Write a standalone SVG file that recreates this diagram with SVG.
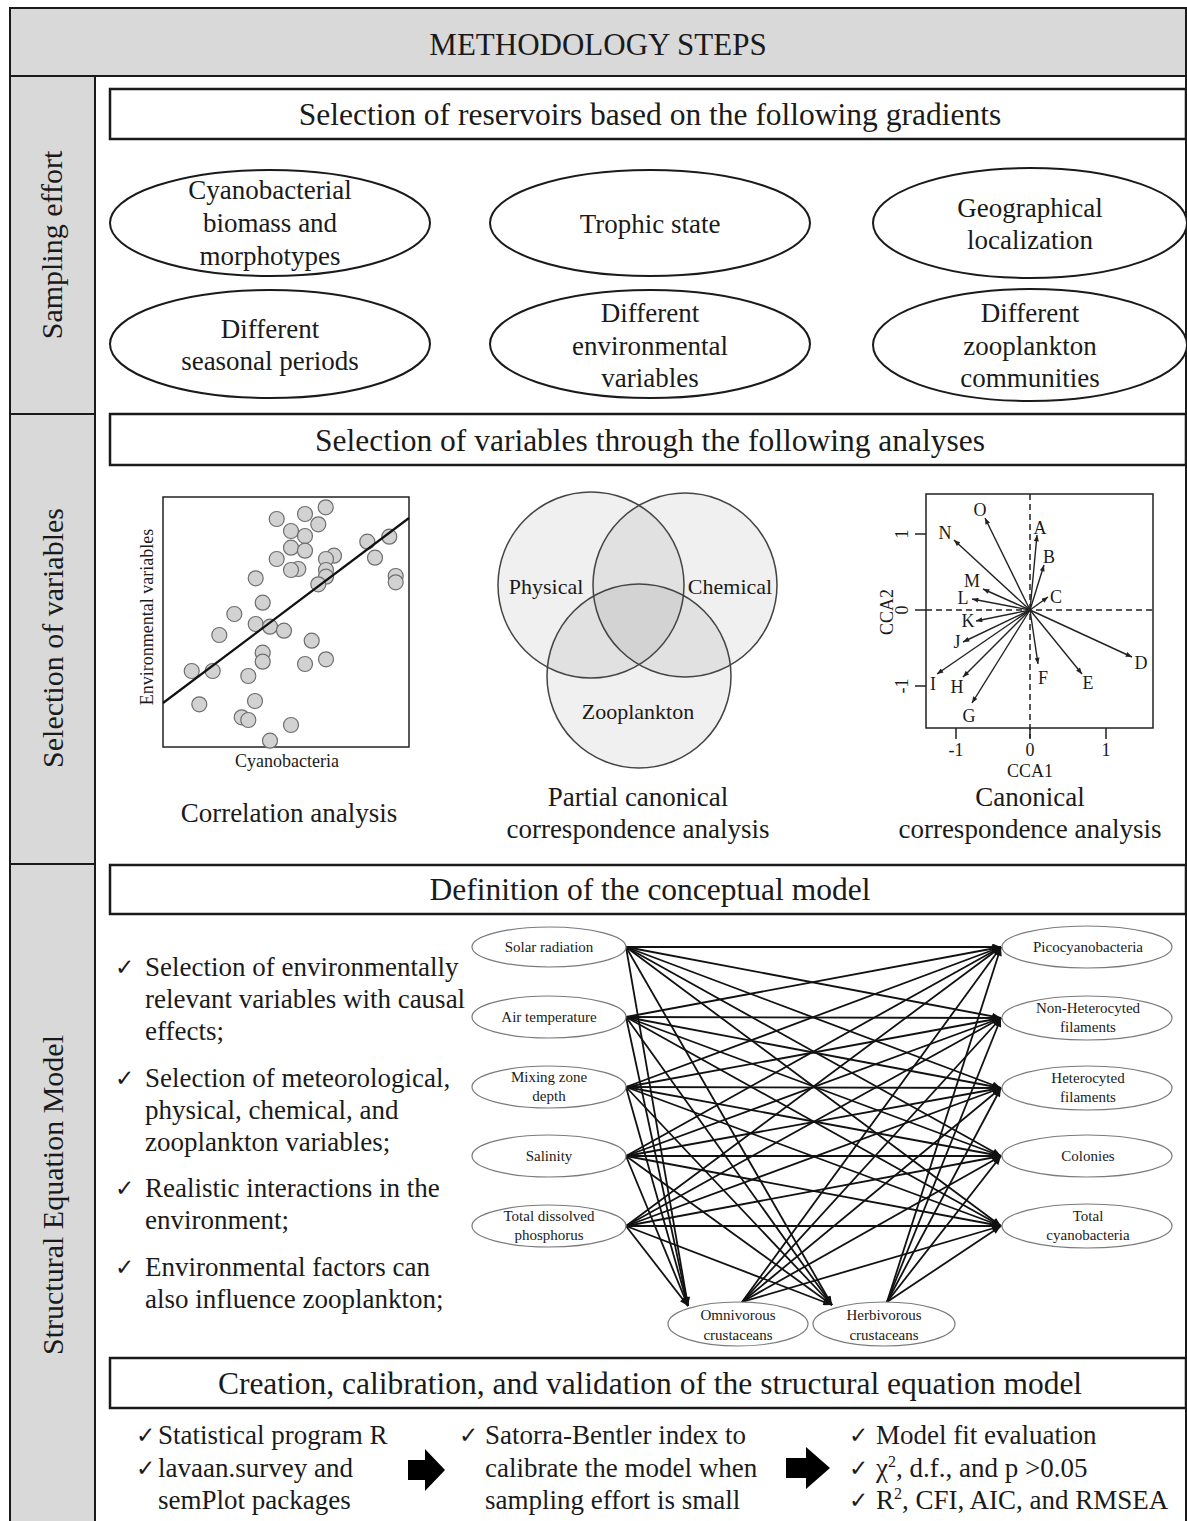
<svg xmlns="http://www.w3.org/2000/svg" width="1187" height="1521" viewBox="0 0 1187 1521">
<style>
text { font-family: "Liberation Serif", "Times New Roman", serif; fill: #1a1a1a; }
.hdr { font-size: 31px; }
.ttl { font-size: 31.5px; }
.side { font-size: 30px; }
.ell { font-size: 27px; text-anchor: middle; }
.cap { font-size: 27px; text-anchor: middle; }
.bul { font-size: 27px; }
.sem { font-size: 15px; text-anchor: middle; }
.frame { fill: none; stroke: #1a1a1a; stroke-width: 2; }
.box { fill: #fff; stroke: #1a1a1a; stroke-width: 2.5; }
.gray { fill: #d9d9d9; }
.oval { fill: #fff; stroke: #1a1a1a; stroke-width: 2; }
.semoval { fill: #fff; stroke: #7a7a7a; stroke-width: 1.2; }
.edge { stroke: #111; stroke-width: 1.8; fill: none; marker-end: url(#ah); }
.cca { stroke: #222; stroke-width: 1.4; fill: none; marker-end: url(#ah2); }
.ck { font-family: "DejaVu Sans", sans-serif; font-size: 23px; }
.pt { fill: #d2d2d2; stroke: #6e6e6e; stroke-width: 1.2; }
.lbl { font-size: 18px; text-anchor: middle; }
.venn { fill: #000; fill-opacity: 0.06; stroke: none; }
.vennl { fill: none; stroke: #444; stroke-width: 1.5; }
.dash { stroke: #222; stroke-width: 1.5; stroke-dasharray: 6 4; fill: none; }
</style>
<defs>
<marker id="ah" viewBox="0 0 10 8" refX="10" refY="4" markerWidth="10" markerHeight="7" markerUnits="userSpaceOnUse" orient="auto"><path d="M0,0 L10,4 L0,8 z" fill="#111"/></marker>
<marker id="ah2" viewBox="0 0 10 8" refX="10" refY="4" markerWidth="7" markerHeight="5" markerUnits="userSpaceOnUse" orient="auto"><path d="M0,0 L10,4 L0,8 z" fill="#222"/></marker>
</defs>
<rect width="1187" height="1521" fill="#fff"/>

<!-- frame -->
<g id="frame">
<rect class="gray" x="10" y="8" width="1176" height="68"/>
<rect class="gray" x="10" y="76" width="85" height="1450"/>
<rect class="frame" x="10" y="8" width="1176" height="1520"/>
<line class="frame" x1="10" y1="76" x2="1186" y2="76"/>
<line class="frame" x1="95" y1="76" x2="95" y2="1521"/>
<line class="frame" x1="10" y1="414" x2="95" y2="414"/>
<line class="frame" x1="10" y1="864" x2="95" y2="864"/>
<text class="hdr" x="598" y="55" text-anchor="middle">METHODOLOGY STEPS</text>
<text class="side" transform="translate(62,245) rotate(-90)" text-anchor="middle">Sampling effort</text>
<text class="side" transform="translate(63,638) rotate(-90)" text-anchor="middle">Selection of variables</text>
<text class="side" transform="translate(63,1195) rotate(-90)" text-anchor="middle">Structural Equation Model</text>
</g>

<!-- Section 1 -->
<g id="title-reservoirs">
<rect class="box" x="110" y="89" width="1076" height="50"/>
<text class="ttl" x="650" y="125" text-anchor="middle">Selection of reservoirs based on the following gradients</text>
</g>
<g id="g-cyano">
<ellipse class="oval" cx="270" cy="223" rx="160" ry="53"/>
<text class="ell"><tspan x="270" y="199">Cyanobacterial</tspan><tspan x="270" y="232">biomass and</tspan><tspan x="270" y="265">morphotypes</tspan></text>
</g>
<g id="g-trophic">
<ellipse class="oval" cx="650" cy="223" rx="160" ry="53"/>
<text class="ell" x="650" y="233">Trophic state</text>
</g>
<g id="g-geo">
<ellipse class="oval" cx="1030" cy="223" rx="157" ry="55"/>
<text class="ell"><tspan x="1030" y="217">Geographical</tspan><tspan x="1030" y="249">localization</tspan></text>
</g>
<g id="g-season">
<ellipse class="oval" cx="270" cy="344" rx="160" ry="54"/>
<text class="ell"><tspan x="270" y="338">Different</tspan><tspan x="270" y="370">seasonal periods</tspan></text>
</g>
<g id="g-env">
<ellipse class="oval" cx="650" cy="344" rx="160" ry="54"/>
<text class="ell"><tspan x="650" y="322">Different</tspan><tspan x="650" y="355">environmental</tspan><tspan x="650" y="387">variables</tspan></text>
</g>
<g id="g-zoo">
<ellipse class="oval" cx="1030" cy="345" rx="157" ry="56"/>
<text class="ell"><tspan x="1030" y="322">Different</tspan><tspan x="1030" y="355">zooplankton</tspan><tspan x="1030" y="387">communities</tspan></text>
</g>

<!-- Section 2 -->
<g id="title-variables">
<rect class="box" x="110" y="414" width="1076" height="51"/>
<text class="ttl" x="650" y="451" text-anchor="middle">Selection of variables through the following analyses</text>
</g>

<g id="scatter">
<rect x="163" y="497" width="246" height="250" fill="#fff" stroke="#222" stroke-width="1.5"/>
<g class="pt">
<circle cx="325.7" cy="507.3" r="7.5"/><circle cx="276.7" cy="519" r="7.5"/><circle cx="305" cy="514" r="7.5"/>
<circle cx="318.3" cy="524.3" r="7.5"/><circle cx="291" cy="531" r="7.5"/><circle cx="305" cy="536" r="7.5"/>
<circle cx="291" cy="547.7" r="7.5"/><circle cx="305" cy="550.7" r="7.5"/><circle cx="276.7" cy="559" r="7.5"/>
<circle cx="298.3" cy="569" r="7.5"/><circle cx="291" cy="570" r="7.5"/><circle cx="334" cy="555.7" r="7.5"/>
<circle cx="326" cy="559" r="7.5"/><circle cx="326" cy="570" r="7.5"/><circle cx="326" cy="576.7" r="7.5"/>
<circle cx="318.3" cy="584.3" r="7.5"/><circle cx="367.3" cy="541.7" r="7.5"/><circle cx="389.3" cy="536.7" r="7.5"/>
<circle cx="375" cy="557.7" r="7.5"/><circle cx="395.7" cy="576" r="7.5"/><circle cx="395.7" cy="582.3" r="7.5"/>
<circle cx="255.7" cy="578.3" r="7.5"/><circle cx="262.7" cy="602.7" r="7.5"/><circle cx="234.3" cy="614" r="7.5"/>
<circle cx="255.7" cy="624" r="7.5"/><circle cx="270" cy="626.7" r="7.5"/><circle cx="284" cy="630.7" r="7.5"/>
<circle cx="219.3" cy="635" r="7.5"/><circle cx="311.7" cy="640.7" r="7.5"/><circle cx="262.7" cy="652.7" r="7.5"/>
<circle cx="262.7" cy="661.7" r="7.5"/><circle cx="305" cy="664" r="7.5"/><circle cx="326" cy="659.3" r="7.5"/>
<circle cx="191.7" cy="671" r="7.5"/><circle cx="212.7" cy="671" r="7.5"/><circle cx="248.3" cy="676" r="7.5"/>
<circle cx="199.3" cy="704.3" r="7.5"/><circle cx="255" cy="701" r="7.5"/><circle cx="241.7" cy="717.3" r="7.5"/>
<circle cx="248.3" cy="720" r="7.5"/><circle cx="291" cy="725" r="7.5"/><circle cx="270" cy="740.7" r="7.5"/>
</g>
<line x1="163" y1="703" x2="409" y2="518" stroke="#111" stroke-width="2.2"/>
<text class="lbl" transform="translate(153,617) rotate(-90)">Environmental variables</text>
<text class="lbl" x="287" y="767">Cyanobacteria</text>
<text class="cap" x="289" y="822">Correlation analysis</text>
</g>

<g id="venn">
<circle class="venn" cx="591" cy="585" r="93"/>
<circle class="venn" cx="685" cy="585" r="92"/>
<circle class="venn" cx="639" cy="676" r="92"/>
<circle class="vennl" cx="591" cy="585" r="93"/>
<circle class="vennl" cx="685" cy="585" r="92"/>
<circle class="vennl" cx="639" cy="676" r="92"/>
<text x="546" y="594" font-size="22" text-anchor="middle">Physical</text>
<text x="730" y="594" font-size="22" text-anchor="middle">Chemical</text>
<text x="638" y="719" font-size="22" text-anchor="middle">Zooplankton</text>
<text class="cap"><tspan x="638" y="806">Partial canonical</tspan><tspan x="638" y="838">correspondence analysis</tspan></text>
</g>

<g id="cca">
<rect x="926" y="494" width="227" height="234" fill="#fff" stroke="#222" stroke-width="1.5"/>
<line class="dash" x1="1030" y1="494" x2="1030" y2="738"/>
<line class="dash" x1="926" y1="610" x2="1153" y2="610"/>
<g stroke="#222" stroke-width="1.5">
<line x1="915" y1="534" x2="926" y2="534"/><line x1="915" y1="610" x2="926" y2="610"/><line x1="915" y1="686" x2="926" y2="686"/>
<line x1="956" y1="728" x2="956" y2="739"/><line x1="1030" y1="728" x2="1030" y2="739"/><line x1="1106" y1="728" x2="1106" y2="739"/>
</g>
<text class="lbl" font-size="15" transform="translate(908,534) rotate(-90)">1</text>
<text class="lbl" font-size="15" transform="translate(908,610) rotate(-90)">0</text>
<text class="lbl" font-size="15" transform="translate(908,686) rotate(-90)">-1</text>
<text class="lbl" font-size="17" transform="translate(893,612) rotate(-90)">CCA2</text>
<text class="lbl" font-size="17" x="956" y="756">-1</text>
<text class="lbl" font-size="17" x="1030" y="756">0</text>
<text class="lbl" font-size="17" x="1106" y="756">1</text>
<text class="lbl" x="1030" y="777">CCA1</text>
<line class="cca" x1="1030" y1="610" x2="985" y2="518"/>
<line class="cca" x1="1030" y1="610" x2="954" y2="540"/>
<line class="cca" x1="1030" y1="610" x2="1037" y2="535"/>
<line class="cca" x1="1030" y1="610" x2="1044" y2="565"/>
<line class="cca" x1="1030" y1="610" x2="1048" y2="597"/>
<line class="cca" x1="1030" y1="610" x2="983" y2="589"/>
<line class="cca" x1="1030" y1="610" x2="972" y2="599"/>
<line class="cca" x1="1030" y1="610" x2="976" y2="621"/>
<line class="cca" x1="1030" y1="610" x2="963" y2="642"/>
<line class="cca" x1="1030" y1="610" x2="937" y2="674"/>
<line class="cca" x1="1030" y1="610" x2="963" y2="677"/>
<line class="cca" x1="1030" y1="610" x2="972" y2="703"/>
<line class="cca" x1="1030" y1="610" x2="1038" y2="664"/>
<line class="cca" x1="1030" y1="610" x2="1082" y2="674"/>
<line class="cca" x1="1030" y1="610" x2="1132" y2="657"/>
<g class="lbl">
<text x="980" y="516">O</text><text x="945" y="539">N</text><text x="1040" y="534">A</text>
<text x="1049" y="563">B</text><text x="1056" y="603">C</text><text x="972" y="587">M</text>
<text x="963" y="604">L</text><text x="968" y="627">K</text><text x="957" y="648">J</text>
<text x="933" y="690">I</text><text x="957" y="693">H</text><text x="969" y="722">G</text>
<text x="1043" y="684">F</text><text x="1088" y="689">E</text><text x="1141" y="669">D</text>
</g>
<text class="cap"><tspan x="1030" y="806">Canonical</tspan><tspan x="1030" y="838">correspondence analysis</tspan></text>
</g>

<!-- Section 3 -->
<g id="title-model">
<rect class="box" x="110" y="865" width="1076" height="49"/>
<text class="ttl" x="650" y="900" text-anchor="middle">Definition of the conceptual model</text>
</g>

<g id="bullets">
<text class="ck" x="115" y="975">✓</text>
<text class="bul"><tspan x="145" y="976">Selection of environmentally</tspan><tspan x="145" y="1008">relevant variables with causal</tspan><tspan x="145" y="1040">effects;</tspan></text>
<text class="ck" x="115" y="1086">✓</text>
<text class="bul"><tspan x="145" y="1087">Selection of meteorological,</tspan><tspan x="145" y="1119">physical, chemical, and</tspan><tspan x="145" y="1151">zooplankton variables;</tspan></text>
<text class="ck" x="115" y="1196">✓</text>
<text class="bul"><tspan x="145" y="1197">Realistic interactions in the</tspan><tspan x="145" y="1229">environment;</tspan></text>
<text class="ck" x="115" y="1275">✓</text>
<text class="bul"><tspan x="145" y="1276">Environmental factors can</tspan><tspan x="145" y="1308">also influence zooplankton;</tspan></text>
</g>

<g id="connectors">
<line class="edge" x1="626" y1="947" x2="1001" y2="947"/>
<line class="edge" x1="626" y1="947" x2="1001" y2="1018"/>
<line class="edge" x1="626" y1="947" x2="1001" y2="1088"/>
<line class="edge" x1="626" y1="947" x2="1001" y2="1156"/>
<line class="edge" x1="626" y1="947" x2="1001" y2="1226"/>
<line class="edge" x1="626" y1="1017" x2="1001" y2="947"/>
<line class="edge" x1="626" y1="1017" x2="1001" y2="1018"/>
<line class="edge" x1="626" y1="1017" x2="1001" y2="1088"/>
<line class="edge" x1="626" y1="1017" x2="1001" y2="1156"/>
<line class="edge" x1="626" y1="1017" x2="1001" y2="1226"/>
<line class="edge" x1="626" y1="1087" x2="1001" y2="947"/>
<line class="edge" x1="626" y1="1087" x2="1001" y2="1018"/>
<line class="edge" x1="626" y1="1087" x2="1001" y2="1088"/>
<line class="edge" x1="626" y1="1087" x2="1001" y2="1156"/>
<line class="edge" x1="626" y1="1087" x2="1001" y2="1226"/>
<line class="edge" x1="626" y1="1156" x2="1001" y2="947"/>
<line class="edge" x1="626" y1="1156" x2="1001" y2="1018"/>
<line class="edge" x1="626" y1="1156" x2="1001" y2="1088"/>
<line class="edge" x1="626" y1="1156" x2="1001" y2="1156"/>
<line class="edge" x1="626" y1="1156" x2="1001" y2="1226"/>
<line class="edge" x1="626" y1="1226" x2="1001" y2="947"/>
<line class="edge" x1="626" y1="1226" x2="1001" y2="1018"/>
<line class="edge" x1="626" y1="1226" x2="1001" y2="1088"/>
<line class="edge" x1="626" y1="1226" x2="1001" y2="1156"/>
<line class="edge" x1="626" y1="1226" x2="1001" y2="1226"/>
<line class="edge" x1="626" y1="947" x2="688" y2="1306"/>
<line class="edge" x1="626" y1="1017" x2="688" y2="1306"/>
<line class="edge" x1="626" y1="1087" x2="688" y2="1306"/>
<line class="edge" x1="626" y1="1156" x2="688" y2="1306"/>
<line class="edge" x1="626" y1="1226" x2="688" y2="1306"/>
<line class="edge" x1="626" y1="947" x2="832" y2="1305"/>
<line class="edge" x1="626" y1="1017" x2="832" y2="1305"/>
<line class="edge" x1="626" y1="1087" x2="832" y2="1305"/>
<line class="edge" x1="626" y1="1156" x2="832" y2="1305"/>
<line class="edge" x1="626" y1="1226" x2="832" y2="1305"/>
<line class="edge" x1="742" y1="1302" x2="1001" y2="947"/>
<line class="edge" x1="742" y1="1302" x2="1001" y2="1018"/>
<line class="edge" x1="742" y1="1302" x2="1001" y2="1088"/>
<line class="edge" x1="742" y1="1302" x2="1001" y2="1156"/>
<line class="edge" x1="742" y1="1302" x2="1001" y2="1226"/>
<line class="edge" x1="887" y1="1302" x2="1001" y2="947"/>
<line class="edge" x1="887" y1="1302" x2="1001" y2="1018"/>
<line class="edge" x1="887" y1="1302" x2="1001" y2="1088"/>
<line class="edge" x1="887" y1="1302" x2="1001" y2="1156"/>
<line class="edge" x1="887" y1="1302" x2="1001" y2="1226"/>
</g>

<g id="n-solar"><ellipse class="semoval" cx="549" cy="947" rx="77" ry="20"/><text class="sem" x="549" y="952">Solar radiation</text></g>
<g id="n-air"><ellipse class="semoval" cx="549" cy="1017" rx="77" ry="21"/><text class="sem" x="549" y="1022">Air temperature</text></g>
<g id="n-mix"><ellipse class="semoval" cx="549" cy="1087" rx="77" ry="21"/><text class="sem"><tspan x="549" y="1082">Mixing zone</tspan><tspan x="549" y="1101">depth</tspan></text></g>
<g id="n-sal"><ellipse class="semoval" cx="549" cy="1156" rx="77" ry="21"/><text class="sem" x="549" y="1161">Salinity</text></g>
<g id="n-tdp"><ellipse class="semoval" cx="549" cy="1226" rx="77" ry="21"/><text class="sem"><tspan x="549" y="1221">Total dissolved</tspan><tspan x="549" y="1240">phosphorus</tspan></text></g>
<g id="n-pico"><ellipse class="semoval" cx="1087" cy="947" rx="85" ry="21"/><text class="sem" x="1088" y="952">Picocyanobacteria</text></g>
<g id="n-nonhet"><ellipse class="semoval" cx="1087" cy="1018" rx="85" ry="22"/><text class="sem"><tspan x="1088" y="1013">Non-Heterocyted</tspan><tspan x="1088" y="1032">filaments</tspan></text></g>
<g id="n-het"><ellipse class="semoval" cx="1087" cy="1088" rx="85" ry="22"/><text class="sem"><tspan x="1088" y="1083">Heterocyted</tspan><tspan x="1088" y="1102">filaments</tspan></text></g>
<g id="n-col"><ellipse class="semoval" cx="1087" cy="1156" rx="85" ry="21"/><text class="sem" x="1088" y="1161">Colonies</text></g>
<g id="n-total"><ellipse class="semoval" cx="1087" cy="1226" rx="85" ry="22"/><text class="sem"><tspan x="1088" y="1221">Total</tspan><tspan x="1088" y="1240">cyanobacteria</tspan></text></g>
<g id="n-omni"><ellipse class="semoval" cx="738" cy="1324" rx="70" ry="22"/><text class="sem"><tspan x="738" y="1320">Omnivorous</tspan><tspan x="738" y="1340">crustaceans</tspan></text></g>
<g id="n-herb"><ellipse class="semoval" cx="884" cy="1324" rx="71" ry="22"/><text class="sem"><tspan x="884" y="1320">Herbivorous</tspan><tspan x="884" y="1340">crustaceans</tspan></text></g>

<g id="title-creation">
<rect class="box" x="110" y="1358" width="1076" height="50"/>
<text class="ttl" x="650" y="1394" text-anchor="middle">Creation, calibration, and validation of the structural equation model</text>
</g>

<g id="final-steps">
<text class="ck" x="136" y="1443">✓</text>
<text class="bul" x="158" y="1444">Statistical program R</text>
<text class="ck" x="136" y="1476">✓</text>
<text class="bul"><tspan x="158" y="1477">lavaan.survey and</tspan><tspan x="158" y="1509">semPlot packages</tspan></text>
<polygon points="408,1460 425,1460 425,1449 445,1470 425,1491 425,1480 408,1480" fill="#000"/>
<text class="ck" x="459" y="1443">✓</text>
<text class="bul"><tspan x="485" y="1444">Satorra-Bentler index to</tspan><tspan x="485" y="1477">calibrate the model when</tspan><tspan x="485" y="1509">sampling effort is small</tspan></text>
<polygon points="786,1458 806,1458 806,1447 830,1468 806,1489 806,1478 786,1478" fill="#000"/>
<text class="ck" x="849" y="1443">✓</text>
<text class="bul" x="876" y="1444">Model fit evaluation</text>
<text class="ck" x="849" y="1476">✓</text>
<text class="bul" x="876" y="1477">χ<tspan dy="-10" font-size="16">2</tspan><tspan dy="10">, d.f., and p &gt;0.05</tspan></text>
<text class="ck" x="849" y="1508">✓</text>
<text class="bul" x="876" y="1509">R<tspan dy="-10" font-size="16">2</tspan><tspan dy="10">, CFI, AIC, and RMSEA</tspan></text>
</g>
</svg>
